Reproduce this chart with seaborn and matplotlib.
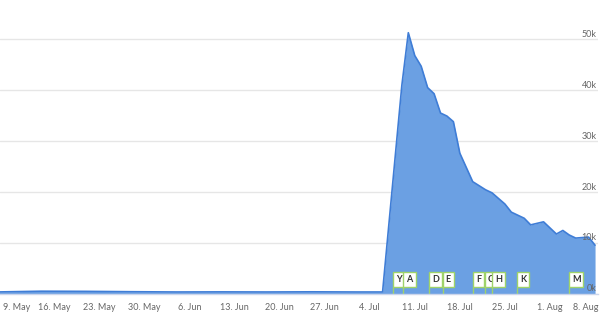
import matplotlib
matplotlib.use("Agg")
import matplotlib.pyplot as plt
import matplotlib.dates as mdates
import matplotlib.transforms as mtransforms
import seaborn as sns
import pandas as pd

# ---- data ----
dates = [
    "2022-05-07", "2022-05-14", "2022-05-21", "2022-05-28", "2022-06-04",
    "2022-06-11", "2022-06-18", "2022-06-25", "2022-07-02", "2022-07-06",
    "2022-07-09", "2022-07-10", "2022-07-11", "2022-07-12", "2022-07-13",
    "2022-07-14", "2022-07-15", "2022-07-16", "2022-07-17", "2022-07-18",
    "2022-07-19", "2022-07-20", "2022-07-21", "2022-07-22", "2022-07-23",
    "2022-07-24", "2022-07-25", "2022-07-26", "2022-07-27", "2022-07-28",
    "2022-07-29", "2022-07-30", "2022-07-31", "2022-08-01", "2022-08-02",
    "2022-08-03", "2022-08-04", "2022-08-05", "2022-08-06", "2022-08-07",
    "2022-08-08",
]
values = [
    300, 450, 420, 350, 300,
    320, 300, 330, 300, 300,
    41000, 51300, 46800, 44700, 40500,
    39300, 35500, 34900, 33800, 27600,
    24800, 22000, 21200, 20400, 19800,
    18700, 17600, 16000, 15400, 14800,
    13500, 13800, 14100, 12900, 11700,
    12400, 11500, 10900, 11000, 11100,
    9500,
]
flag_labels = ["Y", "A", "D", "E", "F", "C", "H", "K", "M"]
flag_dates = [
    "2022-07-07 16:00", "2022-07-09 05:00", "2022-07-13 05:00", "2022-07-15 08:00",
    "2022-07-20 00:00", "2022-07-21 22:00", "2022-07-22 23:00", "2022-07-26 22:00",
    "2022-08-03 22:00",
]
y_ticks = [0, 10000, 20000, 30000, 40000, 50000]
y_tick_labels = ["0k", "10k", "20k", "30k", "40k", "50k"]
x_tick_dates = pd.date_range("2022-05-09", "2022-08-08", freq="7D")

df = pd.DataFrame({"date": pd.to_datetime(dates), "value": values})

# ---- style ----
sns.set_theme(style="white")
plt.rcParams["font.family"] = ["Lato", "DejaVu Sans"]

fig = plt.figure(figsize=(6, 3.15), dpi=100)
ax = fig.add_axes([0, 21.5 / 315, 598 / 600, 273.5 / 315])

fill_color = "#6ba0e3"
line_color = "#3f7dd6"

ax.fill_between(df["date"], 0, df["value"], color=fill_color, linewidth=0, zorder=2)
sns.lineplot(data=df, x="date", y="value", ax=ax, color=line_color, linewidth=1.2, zorder=3)

ax.set_xlim(pd.Timestamp("2022-05-07 14:00"), pd.Timestamp("2022-08-08 11:00"))
ax.set_ylim(0, 53800)

# grid
ax.set_yticks(y_ticks)
ax.yaxis.grid(True, color="#e6e6e6", linewidth=1, zorder=0)
ax.set_axisbelow(True)
ax.tick_params(axis="y", length=0, labelleft=False, labelright=False)

# y labels inside the plot, right aligned
ytrans = mtransforms.blended_transform_factory(ax.transAxes, ax.transData)
for v, lab in zip(y_ticks, y_tick_labels):
    ax.text(0.998, v + 450, lab, transform=ytrans, ha="right", va="baseline",
            fontsize=6.5, color="#666666", zorder=5)

# x axis
ax.set_xticks(x_tick_dates)
ax.xaxis.set_major_formatter(plt.FuncFormatter(
    lambda x, pos: f"{mdates.num2date(x).day}. {mdates.num2date(x):%b}"))
ax.tick_params(axis="x", length=5, width=1, color="#ccd6eb", labelsize=6.5,
               labelcolor="#666666", pad=2)
ax.set_xlabel("")
ax.set_ylabel("")
for s in ["top", "left", "right"]:
    ax.spines[s].set_visible(False)
ax.spines["bottom"].set_color("#ccd6eb")
ax.spines["bottom"].set_linewidth(1)
ax.spines["bottom"].set_zorder(6)

# keep the edge labels inside the figure
fig.canvas.draw()
xlabels = ax.get_xticklabels()
xlabels[0].set_horizontalalignment("left")
xlabels[0].set_transform(xlabels[0].get_transform()
                         + mtransforms.ScaledTranslation(-6 / 100, 0, fig.dpi_scale_trans))
xlabels[-1].set_horizontalalignment("right")
xlabels[-1].set_transform(xlabels[-1].get_transform()
                          + mtransforms.ScaledTranslation(3 / 100, 0, fig.dpi_scale_trans))

# flags
green = "#9fd36a"
stem_top = 1350
pad_pts = 2.2
txt_trans = mtransforms.offset_copy(ax.transData, fig=fig, x=pad_pts, y=pad_pts, units="points")
for lab, d in zip(flag_labels, pd.to_datetime(flag_dates)):
    ax.plot([d, d], [0, stem_top], color=green, linewidth=1, zorder=6)
    ax.text(d, stem_top, lab, transform=txt_trans, ha="left", va="bottom",
            fontsize=6.5, fontweight="bold", color="#333333", zorder=7,
            bbox=dict(boxstyle="square,pad=0.33", fc="white", ec=green, lw=1))

fig.savefig("out.png", dpi=100)
